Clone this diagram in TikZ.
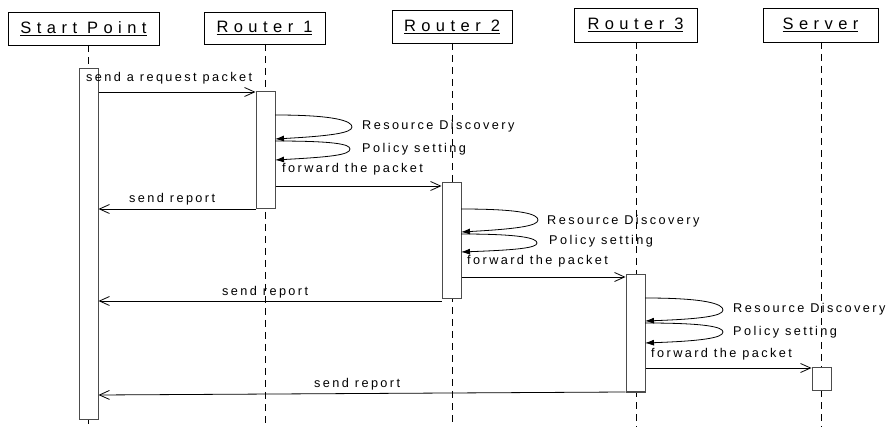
\documentclass[tikz,border=0pt]{standalone}
\usepackage{fontspec}
\setmainfont{Liberation Sans}
\newfontfamily\hdfont[LetterSpace=33]{Liberation Sans}
\newfontfamily\msgfont[LetterSpace=19]{Liberation Sans}
\usetikzlibrary{arrows.meta}
\begin{document}
\begin{tikzpicture}[x=1pt,y=-1pt,
  hdr/.style={draw=black,line width=0.8pt,fill=white,inner sep=0pt,font=\hdfont\fontsize{16.5}{16.5}\selectfont},
  life/.style={draw=black,line width=0.8pt,dash pattern=on 7pt off 5pt},
  act/.style={draw=black!70,line width=1pt,fill=white,inner sep=0pt},
  msg/.style={draw=black,line width=0.8pt,-{Straight Barb[length=10pt,width=9pt]}},
  self/.style={draw=black,line width=0.8pt,-{Latex[length=9pt,width=6pt]}},
  lbl/.style={inner sep=0pt,anchor=base west,font=\msgfont\fontsize{12.7}{12.7}\selectfont}]
\useasboundingbox (0,0) rectangle (886,427);
% headers
\node[hdr,minimum width=151pt,minimum height=33pt] (sp) at (83.5,28.5) {\underline{Start Point}};
\node[hdr,minimum width=121pt,minimum height=32pt] (r1) at (264.5,28) {\underline{Router 1}};
\node[hdr,minimum width=120pt,minimum height=33pt] (r2) at (452,26.5) {\underline{Router 2}};
\node[hdr,minimum width=123pt,minimum height=34pt] (r3) at (635.5,25) {\underline{Router 3}};
\node[hdr,minimum width=115pt,minimum height=34pt] (sv) at (820.5,25) {\underline{Server}};
% lifeline ends
\coordinate (l0a) at (88,45);  \coordinate (l0b) at (88,427);
\coordinate (l1a) at (265,44); \coordinate (l1b) at (265,427);
\coordinate (l2a) at (452,43); \coordinate (l2b) at (452,427);
\coordinate (l3a) at (636,42); \coordinate (l3b) at (636,427);
\coordinate (l4a) at (821,42); \coordinate (l4b) at (821,427);
\draw[life] (l0a) -- (l0b);
\draw[life] (l1a) -- (l1b);
\draw[life] (l2a) -- (l2b);
\draw[life] (l3a) -- (l3b);
\draw[life] (l4a) -- (l4b);
% activation boxes
\node[act,minimum width=19pt,minimum height=350pt] (a0) at (88.5,244) {};
\node[act,minimum width=19pt,minimum height=117pt] (a1) at (265.5,150.5) {};
\node[act,minimum width=19pt,minimum height=116pt] (a2) at (451.5,241) {};
\node[act,minimum width=19pt,minimum height=117pt] (a3) at (635.5,333.5) {};
\node[act,minimum width=19pt,minimum height=23pt] (a4) at (821.5,379.5) {};
% message y-levels
\coordinate (y1) at (0,92);
\coordinate (y2) at (0,186);
\coordinate (y3) at (0,209);
\coordinate (y4) at (0,277);
\coordinate (y5) at (0,301);
\coordinate (y6) at (0,368);
\coordinate (y7a) at (0,392);
\coordinate (y7b) at (0,395);
% request
\draw[msg] (a0.east |- y1) -- (a1.west |- y1);
\node[lbl] (t1) at (86,82) {send a request packet};
% Router 1 self messages
\coordinate (s1a) at (275,115); \coordinate (s1b) at (275,139);
\coordinate (s1c) at (275,141); \coordinate (s1d) at (275,160);
\draw[self] (s1a) .. controls (335,115) and (352,121) .. (352,127) .. controls (352,133) and (330,136) .. (s1b);
\draw[self] (s1c) .. controls (333,141) and (350,144) .. (350,149) .. controls (350,155) and (330,157) .. (s1d);
\node[lbl] (t2) at (362,130) {Resource Discovery};
\node[lbl] (t3) at (362,153) {Policy setting};
\node[lbl] (t4) at (282,173) {forward the packet};
\draw[msg] (a1.east |- y2) -- (a2.west |- y2);
\draw[msg] (a1.west |- y3) -- (a0.east |- y3);
\node[lbl] (t5) at (129,203) {send report};
% Router 2 self messages
\coordinate (s2a) at (461,209); \coordinate (s2b) at (461,232);
\coordinate (s2c) at (461,234); \coordinate (s2d) at (461,252);
\draw[self] (s2a) .. controls (521,209) and (538,214) .. (538,220) .. controls (538,226) and (516,229) .. (s2b);
\draw[self] (s2c) .. controls (520,234) and (537,238) .. (537,243) .. controls (537,248) and (516,250) .. (s2d);
\node[lbl] (t6) at (547,225) {Resource Discovery};
\node[lbl] (t7) at (549,245) {Policy setting};
\node[lbl] (t8) at (467,265) {forward the packet};
\draw[msg] (a2.east |- y4) -- (a3.west |- y4);
\draw[msg] (a2.west |- y5) -- (a0.east |- y5);
\node[lbl] (t9) at (222,296) {send report};
% Router 3 self messages
\coordinate (s3a) at (645,298); \coordinate (s3b) at (645,321);
\coordinate (s3c) at (645,323); \coordinate (s3d) at (645,343);
\draw[self] (s3a) .. controls (706,298) and (723,304) .. (723,310) .. controls (723,316) and (701,319) .. (s3b);
\draw[self] (s3c) .. controls (706,323) and (723,327) .. (723,332) .. controls (723,338) and (701,341) .. (s3d);
\node[lbl] (t10) at (733,313) {Resource Discovery};
\node[lbl] (t11) at (733,336) {Policy setting};
\node[lbl] (t12) at (651,358) {forward the packet};
\draw[msg] (a3.east |- y6) -- (a4.west |- y6);
\draw[msg] (a3.west |- y7a) -- (a0.east |- y7b);
\node[lbl] (t13) at (314,388) {send report};
\end{tikzpicture}
\end{document}
